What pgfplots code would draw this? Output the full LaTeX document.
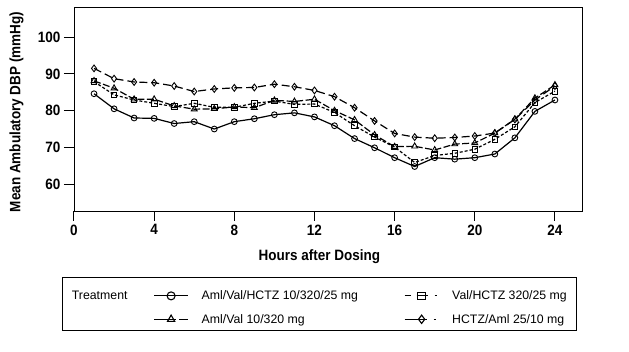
\documentclass[border=0pt]{standalone}
\usepackage{pgfplots}
\pgfplotsset{compat=1.18}
\usepackage{fontspec}
\setmainfont{Liberation Sans}
\newfontfamily\condfont[FakeStretch=0.9]{Liberation Sans}
\begin{document}
\begin{tikzpicture}
\path (-74pt,-141pt) rectangle (555pt,211pt);
\begin{axis}[
  at={(0,0)}, anchor=south west,
  scale only axis, width=508pt, height=204pt,
  xmin=0, xmax=25.35, ymin=52.7, ymax=108.2,
  xtick={0,4,...,24}, ytick={60,70,...,100},
  tick pos=left, tick align=outside,
  major tick length=10pt,
  tick style={black, line width=1pt},
  axis line style={line width=0.9pt},
  /pgf/number format/assume math mode=true,
  tick label style={font=\condfont\fontsize{15}{17}\selectfont\bfseries},
  xlabel={Hours after Dosing},
  ylabel={Mean Ambulatory DBP (mmHg)},
  label style={font=\condfont\fontsize{15}{17}\selectfont\bfseries},
  xlabel style={at={(axis description cs:0.483,-0.245)}, anchor=base},
  ylabel style={at={(axis description cs:-0.113,0.485)}, anchor=center},
  legend columns=3,
  legend cell align=left,
  legend style={at={(axis description cs:-0.036,-0.37)}, anchor=north west,
    draw=none, fill=none, font=\fontsize{12.3}{14}\selectfont,
    row sep=9pt,
    /tikz/every odd column/.append style={column sep=11pt},
    /tikz/every even column/.append style={column sep=24pt}},
  legend image code/.code={\draw[mark repeat=2,mark phase=2] plot coordinates {(0pt,0pt) (17pt,0pt) (34pt,0pt)};},
]
\addlegendimage{empty legend}
\addlegendentry{Treatment}
\addlegendimage{black, line width=1.2pt, mark=o, mark size=4pt, mark options={solid, line width=1.1pt}}
\addlegendentry{Aml/Val/HCTZ 10/320/25 mg\rule{20pt}{0pt}}
\addlegendimage{black, line width=1.2pt, dash pattern=on 6pt off 6pt on 11pt off 7pt on 2pt off 10pt, mark=square, mark size=3.8pt, mark options={solid, line width=1.1pt}}
\addlegendentry{Val/HCTZ 320/25 mg}
\addlegendimage{empty legend}
\addlegendentry{}
\addlegendimage{black, line width=1.2pt, dash pattern=on 22pt off 3pt on 9pt off 10pt, mark=triangle, mark size=4.2pt, mark options={solid, line width=1.1pt}}
\addlegendentry{Aml/Val 10/320 mg}
\addlegendimage{black, line width=1.2pt, dash pattern=on 22pt off 7pt on 2pt off 10pt, mark=diamond, mark size=4.2pt, mark options={solid, line width=1.1pt}}
\addlegendentry{HCTZ/Aml 25/10 mg}

% Aml/Val/HCTZ
\addplot[forget plot, black, line width=1.2pt, mark=o, mark size=2.9pt, mark options={solid, line width=0.9pt, fill=white}] coordinates {
(1,84.6)(2,80.5)(3,78.0)(4,77.9)(5,76.5)(6,77.0)(7,75.0)(8,77.0)(9,77.8)(10,78.9)(11,79.4)(12,78.3)
(13,75.9)(14,72.4)(15,69.9)(16,67.2)(17,64.8)(18,67.2)(19,66.8)(20,67.2)(21,68.2)(22,72.6)(23,79.8)(24,82.9)};
% Aml/Val
\addplot[forget plot, black, line width=1.2pt, dash pattern=on 7pt off 2.5pt, mark=triangle, mark size=3.4pt, mark options={solid, line width=0.9pt, fill=white}] coordinates {
(1,88.1)(2,86.1)(3,83.1)(4,83.1)(5,81.3)(6,80.4)(7,80.5)(8,81.0)(9,80.8)(10,82.8)(11,82.5)(12,83.1)
(13,80.0)(14,77.5)(15,73.4)(16,70.2)(17,70.3)(18,69.3)(19,70.9)(20,71.2)(21,73.9)(22,77.7)(23,83.4)(24,87.0)};
% Val/HCTZ
\addplot[forget plot, black, line width=1.2pt, dash pattern=on 3pt off 2pt, mark=square, mark size=2.8pt, mark options={solid, line width=0.9pt, fill=white}] coordinates {
(1,87.9)(2,84.3)(3,82.9)(4,82.0)(5,81.1)(6,82.0)(7,80.9)(8,80.9)(9,82.0)(10,82.6)(11,81.7)(12,81.8)
(13,79.5)(14,75.9)(15,72.8)(16,70.1)(17,65.9)(18,67.8)(19,68.4)(20,69.5)(21,72.2)(22,75.6)(23,82.2)(24,85.3)};
% HCTZ/Aml
\addplot[forget plot, black, line width=1.2pt, dash pattern=on 8pt off 4pt, mark=diamond, mark size=3.4pt, mark options={solid, line width=0.9pt, fill=white}] coordinates {
(1,91.5)(2,88.7)(3,87.8)(4,87.6)(5,86.7)(6,85.2)(7,85.9)(8,86.2)(9,86.3)(10,87.2)(11,86.5)(12,85.5)
(13,83.8)(14,80.8)(15,77.2)(16,73.8)(17,72.8)(18,72.5)(19,72.7)(20,73.1)(21,73.9)(22,77.6)(23,82.9)(24,86.7)};
\end{axis}
\draw[line width=1pt] (-11.3pt,-67pt) rectangle (502pt,-120pt);
\end{tikzpicture}
\end{document}
